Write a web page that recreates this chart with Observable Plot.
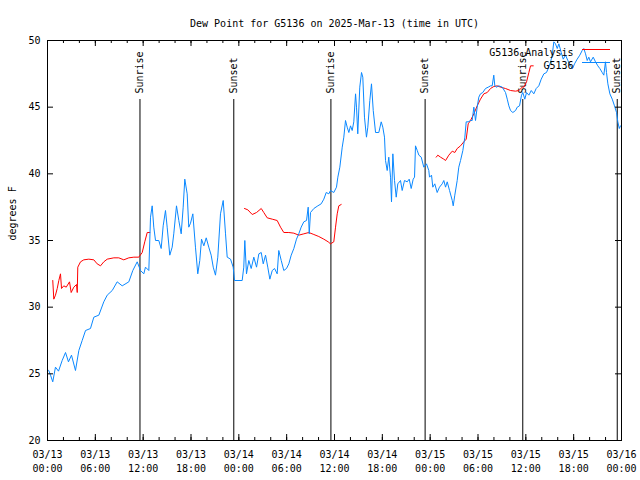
<!DOCTYPE html>
<html><head><meta charset="utf-8">
<script src="https://cdn.jsdelivr.net/npm/d3@7"></script>
<script src="https://cdn.jsdelivr.net/npm/@observablehq/plot@0.6"></script>
<style>body{margin:0;background:#fff} svg{display:block}</style>
</head><body><div id="chart"></div>
<script>
const titleText = "Dew Point for G5136 on 2025-Mar-13 (time in UTC)";
const yLabel = "degrees F";
const seriesNames = ["G5136 Analysis", "G5136"];
const startTime = "2025-03-13T00:00:00Z";
const endTime = "2025-03-16T00:00:00Z";
const yTicks = [20, 25, 30, 35, 40, 45, 50];
const xTicks = ["2025-03-13T00:00Z","2025-03-13T06:00Z","2025-03-13T12:00Z","2025-03-13T18:00Z",
  "2025-03-14T00:00Z","2025-03-14T06:00Z","2025-03-14T12:00Z","2025-03-14T18:00Z",
  "2025-03-15T00:00Z","2025-03-15T06:00Z","2025-03-15T12:00Z","2025-03-15T18:00Z","2025-03-16T00:00Z"];
const sunLabels = ["Sunrise","Sunset","Sunrise","Sunset","Sunrise","Sunset"];
const sunTimes = ["2025-03-13T11:36Z","2025-03-13T23:22Z","2025-03-14T11:33Z","2025-03-14T23:22Z","2025-03-15T11:37Z","2025-03-15T23:28Z"];

// [hours since 03/13 00:00 UTC, dew point F]
const obsSeries = [[0.0,25.3],[0.16,25.25],[0.38,24.9],[0.66,24.4],[1.0,25.5],[1.38,25.2],[1.84,26.0],[2.26,26.6],[2.63,25.9],[3.01,26.4],[3.51,25.25],[3.93,26.75],[4.35,27.5],[4.77,28.25],[5.39,28.4],[5.81,29.25],[6.44,29.4],[7.06,30.4],[7.49,30.9],[8.12,31.25],[8.74,31.9],[9.37,31.6],[10.2,31.9],[10.7,32.75],[11.25,33.4],[11.67,32.75],[12.08,32.5],[12.29,33],[12.71,32.75],[12.92,36.75],[13.13,37.6],[13.33,36.0],[13.55,35],[13.96,35],[14.26,34.4],[14.51,36.1],[14.8,37.25],[15.01,36.0],[15.34,33.9],[15.64,34.5],[15.84,35.5],[16.18,37.6],[16.47,36.5],[16.77,35.5],[17.02,37.5],[17.22,39.6],[17.52,38.5],[17.72,36.0],[17.94,36.3],[18.23,37.0],[18.56,34.5],[18.85,32.5],[19.1,33.5],[19.32,35.1],[19.61,34.6],[19.91,35.2],[20.23,34.5],[20.53,33.9],[20.79,33.0],[21.07,32.4],[21.36,33.75],[21.7,37.0],[22.04,38.0],[22.33,35.5],[22.54,33.75],[22.96,33.6],[23.29,33.0],[23.46,32.0],[24.42,32.0],[24.62,33],[24.75,35.0],[24.96,32.5],[25.25,33.5],[25.55,32.9],[25.88,33.75],[26.22,33.0],[26.51,34.0],[26.81,34.1],[27.06,33.25],[27.35,33.9],[27.63,33.0],[27.89,32.1],[28.19,32.75],[28.48,32.9],[28.81,32.5],[29.01,34.25],[29.32,33.5],[29.64,32.75],[29.98,32.9],[30.27,33.25],[30.57,33.9],[30.9,34.4],[31.23,35.1],[31.52,35.5],[31.82,36.0],[32.15,36.4],[32.49,36.5],[32.7,37.5],[32.83,35.5],[32.99,37.1],[33.41,37.4],[33.91,37.6],[34.33,37.75],[34.66,38.1],[34.96,38.6],[35.29,38.5],[35.5,38.75],[35.91,38.6],[36.25,39.0],[36.42,39.75],[36.67,40.5],[36.97,42.0],[37.17,42.75],[37.38,44.0],[37.59,43.5],[37.8,43.1],[38.01,43.6],[38.22,43.25],[38.42,43.9],[38.64,46.0],[38.76,45.0],[38.92,43.0],[39.17,46.5],[39.39,47.6],[39.55,47.25],[39.76,44.25],[40.01,42.75],[40.18,43.5],[40.43,45.5],[40.64,46.75],[40.86,44.75],[41.15,43.1],[41.56,43.1],[41.86,43.9],[42.06,43.5],[42.27,42.75],[42.4,41.0],[42.61,40.25],[42.81,41.25],[43.03,39.75],[43.15,37.9],[43.32,41.5],[43.53,39.5],[43.74,38.25],[43.94,39.25],[44.28,39.5],[44.49,38.75],[44.78,39.5],[45.12,39.4],[45.37,39.6],[45.62,38.9],[45.87,39.6],[46.04,39.75],[46.16,42.1],[46.38,41.75],[46.58,41.4],[46.88,41.25],[47.2,40.5],[47.54,40.75],[47.83,40.25],[47.92,39.75],[48.17,39.9],[48.33,39.0],[48.58,39.25],[48.88,38.6],[49.17,39.0],[49.51,39.25],[49.71,39.5],[49.93,39.0],[50.14,39.4],[50.43,38.75],[50.77,38.0],[50.89,37.6],[51.09,38.4],[51.39,39.5],[51.59,40.5],[51.81,41.0],[52.1,41.75],[52.35,42.75],[52.52,43.9],[52.77,43.9],[53.06,44.0],[53.27,44.0],[53.48,45.0],[53.69,44.0],[53.9,45.0],[54.1,45.75],[54.31,46.0],[54.6,46.1],[54.94,46.4],[55.28,46.5],[55.57,46.6],[55.78,46.6],[55.98,47.4],[56.11,46.6],[56.32,46.5],[56.61,46.6],[57.04,46.5],[57.45,46.1],[57.67,45.6],[57.87,45.1],[58.08,44.75],[58.37,44.6],[58.71,44.75],[58.92,45.0],[59.21,45.1],[59.46,45.9],[59.62,46.1],[59.87,45.6],[60.09,46.1],[60.38,45.9],[60.68,46.25],[61.0,46.0],[61.3,46.4],[61.63,46.6],[61.93,47.1],[62.26,47.5],[62.59,47.6],[62.88,48.0],[63.1,48.4],[63.31,48.9],[63.51,49.9],[63.72,49.75],[63.94,49.4],[64.14,49.75],[64.44,49.1],[64.69,48.6],[64.98,48.9],[65.27,48.5],[65.6,48.1],[65.86,47.9],[66.11,48.25],[66.44,48.6],[66.77,48.9],[67.07,49.25],[67.27,49.4],[67.49,49.0],[67.7,48.5],[67.9,48.75],[68.11,48.4],[68.45,48.75],[68.74,48.4],[69.03,48.1],[69.28,47.9],[69.58,47.6],[69.78,47.4],[69.99,48.4],[70.12,47.6],[70.29,46.75],[70.54,46.0],[70.84,45.6],[71.12,45.1],[71.38,44.6],[71.54,43.9],[71.72,43.4],[71.88,43.6]];

// analysis segments separated by null values
const anaSeries = [[0.66,32.0],[0.79,30.6],[1.0,30.9],[1.22,31.4],[1.42,32.0],[1.63,32.5],[1.76,31.4],[2.04,31.6],[2.35,31.5],[2.76,31.9],[2.97,31.1],[3.3,31.5],[3.64,31.7],[3.73,31.1],[3.8,33.0],[4.14,33.4],[4.55,33.55],[5.18,33.6],[5.81,33.55],[6.23,33.25],[6.65,33.1],[7.06,33.4],[7.49,33.6],[8.32,33.7],[8.94,33.7],[9.57,33.55],[10.2,33.7],[10.83,33.75],[11.45,33.75],[11.88,34.1],[12.2,34.9],[12.51,35.6],[12.83,35.6],
  [18.0,null],
  [24.71,37.4],[25.13,37.3],[25.68,36.95],[26.22,37.1],[26.81,37.4],[27.13,37.1],[27.56,36.7],[28.19,36.6],[28.81,36.5],[29.23,36.0],[29.64,35.6],[30.27,35.6],[30.9,35.55],[31.52,35.4],[32.15,35.5],[32.78,35.6],[33.41,35.45],[34.03,35.3],[34.66,35.1],[35.21,34.9],[35.5,34.75],[35.91,34.9],[36.13,36.0],[36.34,37.0],[36.54,37.6],[36.84,37.7],
  [42.0,null],
  [48.76,41.25],[48.96,41.4],[49.3,41.25],[49.71,41.1],[49.93,41.0],[50.34,41.4],[50.77,41.7],[51.09,41.6],[51.39,41.9],[51.81,42.1],[52.22,42.4],[52.52,42.6],[52.77,43.75],[53.06,44.0],[53.48,44.5],[53.9,45.1],[54.31,45.6],[54.73,46.0],[55.16,46.1],[55.57,46.4],[55.98,46.55],[56.41,46.6],[56.83,46.5],[57.45,46.4],[58.08,46.25],[58.71,46.2],[59.12,46.25],[59.55,46.5],[59.75,46.5],[60.09,46.9],[60.38,47.6],[60.59,48.1],[60.93,48.1]];

const t0 = new Date(startTime).getTime();
const toDate = h => new Date(t0 + h * 3600000);
const obs = obsSeries.map(([h, v]) => ({t: toDate(h), v}));
const ana = anaSeries.map(([h, v]) => ({t: toDate(h), v}));
const sun = sunLabels.map((label, i) => ({label, t: new Date(sunTimes[i])}));
const xMajor = xTicks.map(s => new Date(s));
const xMinor = d3.utcHour.every(2).range(new Date(startTime), new Date(new Date(endTime).getTime() + 1));
const fmt = d3.utcFormat("%m/%d\n%H:%M");
const FONT = "DejaVu Sans Mono";
const RED = "#ff0000", BLUE = "#0a88ff";

const plot = Plot.plot({
  width: 640, height: 480,
  marginLeft: 47, marginRight: 19, marginTop: 40, marginBottom: 40,
  style: {fontFamily: FONT, fontSize: "10px", background: "white", color: "black"},
  x: {type: "utc", domain: [new Date(startTime), new Date(endTime)]},
  y: {domain: [20, 50]},
  marks: [
    Plot.ruleX(sun, {x: "t", stroke: "black", insetTop: 59}),
    Plot.text(sun, {x: "t", text: "label", frameAnchor: "top", dy: 53, rotate: -90, textAnchor: "start", lineAnchor: "middle", fill: "black"}),
    Plot.line(ana, {x: "t", y: "v", stroke: RED, strokeWidth: 1, curve: "linear"}),
    Plot.line(obs, {x: "t", y: "v", stroke: BLUE, strokeWidth: 1, curve: "linear"}),
    Plot.frame({stroke: "black"}),
    // inward ticks on all sides
    Plot.ruleX(xMinor, {x: d => d, insetTop: 397, stroke: "black"}),
    Plot.ruleX(xMinor, {x: d => d, insetBottom: 397, stroke: "black"}),
    Plot.ruleX(xMajor, {x: d => d, insetTop: 394, stroke: "black"}),
    Plot.ruleX(xMajor, {x: d => d, insetBottom: 394, stroke: "black"}),
    Plot.ruleY(yTicks, {y: d => d, insetRight: 568, stroke: "black"}),
    Plot.ruleY(yTicks, {y: d => d, insetLeft: 568, stroke: "black"}),
    Plot.axisX(xMajor, {anchor: "bottom", tickSize: 0, tickPadding: 8, tickFormat: fmt, lineHeight: 1.4, label: null}),
    Plot.axisY(yTicks, {anchor: "left", tickSize: 0, tickPadding: 7, label: null}),
    Plot.text([titleText], {text: d => d, frameAnchor: "top", dy: -21, fill: "black"}),
    Plot.text([yLabel], {text: d => d, frameAnchor: "left", dx: -35, rotate: -90, fill: "black"}),
    Plot.text([seriesNames[0]], {text: d => d, frameAnchor: "top-right", dx: -48, dy: 8, textAnchor: "end", fill: "black"}),
    Plot.text([seriesNames[1]], {text: d => d, frameAnchor: "top-right", dx: -48, dy: 21, textAnchor: "end", fill: "black"})
  ]
});
document.getElementById("chart").appendChild(plot);

// legend sample lines
const svg = d3.select(plot);
[[RED, 49], [BLUE, 62]].forEach(([c, y]) => {
  svg.append("line").attr("x1", 582).attr("x2", 610).attr("y1", y + 0.5).attr("y2", y + 0.5)
    .style("stroke", c).style("stroke-width", "1px");
});
</script></body></html>
